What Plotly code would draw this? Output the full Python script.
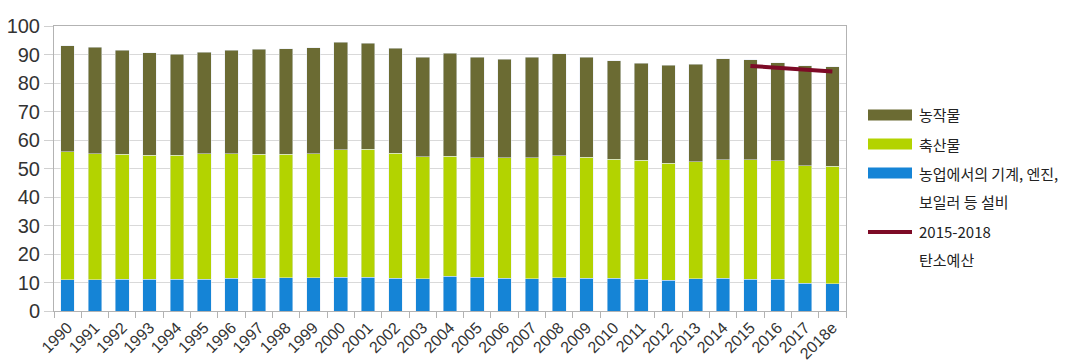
import plotly.graph_objects as go

years = ["1990", "1991", "1992", "1993", "1994", "1995", "1996", "1997", "1998", "1999",
         "2000", "2001", "2002", "2003", "2004", "2005", "2006", "2007", "2008", "2009",
         "2010", "2011", "2012", "2013", "2014", "2015", "2016", "2017", "2018e"]

equipment = [11.0, 11.0, 11.2, 11.2, 11.2, 11.2, 11.5, 11.5, 11.7, 11.7,
             11.8, 11.8, 11.5, 11.3, 12.2, 11.8, 11.5, 11.3, 11.7, 11.5,
             11.5, 11.2, 10.8, 11.4, 11.5, 11.2, 11.2, 9.7, 9.5]
livestock = [44.8, 44.1, 43.8, 43.4, 43.5, 43.9, 43.6, 43.5, 43.3, 43.4,
             44.8, 44.9, 43.8, 42.8, 42.1, 42.0, 42.2, 42.4, 42.8, 42.4,
             41.8, 41.7, 41.0, 41.0, 41.5, 41.8, 41.5, 41.2, 41.3]
crops = [37.3, 37.4, 36.5, 36.0, 35.4, 35.7, 36.4, 36.8, 37.0, 37.3,
         37.7, 37.2, 36.9, 35.0, 36.2, 35.2, 34.6, 35.4, 35.7, 35.2,
         34.5, 34.1, 34.5, 34.2, 35.5, 35.1, 34.4, 35.1, 34.9]

budget_years = ["2015", "2016", "2017", "2018e"]
budget = [86.0, 85.3, 84.7, 84.0]

C_CROPS = "#6b6b33"
C_LIVE = "#b3d300"
C_EQUIP = "#1584d6"
C_LINE = "#7d0a26"

fig = go.Figure()
fig.add_trace(go.Bar(x=years, y=equipment, marker_color=C_EQUIP, name="농업에서의 기계, 엔진,<br>보일러 등 설비"))
fig.add_trace(go.Bar(x=years, y=livestock, marker_color=C_LIVE, name="축산물"))
fig.add_trace(go.Bar(x=years, y=crops, marker_color=C_CROPS, name="농작물"))
fig.add_trace(go.Scatter(x=budget_years, y=budget, mode="lines",
                         line=dict(color=C_LINE, width=4), name="2015-2018<br>탄소예산"))

fig.update_layout(
    barmode="stack",
    bargap=0.5,
    width=1074, height=363,
    margin=dict(l=54, r=228, t=26, b=52),
    plot_bgcolor="white",
    paper_bgcolor="white",
    showlegend=False,
    font=dict(family="Liberation Sans, Arial, sans-serif", color="#333333"),
)

fig.update_xaxes(
    type="category",
    tickangle=-45,
    tickfont=dict(size=16, color="#333333"),
    ticks="outside", tickson="boundaries", ticklen=6, tickcolor="#b3b3b3",
    showline=True, linecolor="#b3b3b3", linewidth=1, mirror=True,
    showgrid=False, automargin=False,
)
fig.update_yaxes(
    range=[0, 100], dtick=10,
    tickfont=dict(size=20, color="#333333"),
    ticks="outside", ticklen=9, tickcolor="#d0d0d0",
    showline=True, linecolor="#b3b3b3", linewidth=1, mirror=True,
    showgrid=True, gridcolor="#d9d9d9", gridwidth=1,
    zeroline=False, automargin=False,
)

# Legend drawn in pixel-like paper coordinates to the right of the plot
plot_x0, plot_x1 = 54, 846
plot_y0, plot_y1 = 26, 311


def px_x(x):
    return (x - plot_x0) / (plot_x1 - plot_x0)


def px_y(y):
    return (plot_y1 - y) / (plot_y1 - plot_y0)


legend_items = [
    ("rect", C_CROPS, 115, ["농작물"]),
    ("rect", C_LIVE, 144, ["축산물"]),
    ("rect", C_EQUIP, 173, ["농업에서의 기계, 엔진,", "보일러 등 설비"]),
    ("line", C_LINE, 231, ["2015-2018", "탄소예산"]),
]
for kind, color, yc, lines in legend_items:
    if kind == "rect":
        fig.add_shape(type="rect", xref="paper", yref="paper",
                      x0=px_x(868), x1=px_x(912), y0=px_y(yc - 5.5), y1=px_y(yc + 5.5),
                      fillcolor=color, line=dict(width=0))
    else:
        fig.add_shape(type="line", xref="paper", yref="paper",
                      x0=px_x(868), x1=px_x(912), y0=px_y(yc + 1), y1=px_y(yc + 1),
                      line=dict(color=color, width=4))
    for i, t in enumerate(lines):
        fig.add_annotation(text=t, xref="paper", yref="paper",
                           x=px_x(917), y=px_y(yc + i * 28.5),
                           xanchor="left", yanchor="middle", showarrow=False,
                           font=dict(family="Noto Sans CJK KR", size=15, color="#222222"))

fig.write_html("out.html")
